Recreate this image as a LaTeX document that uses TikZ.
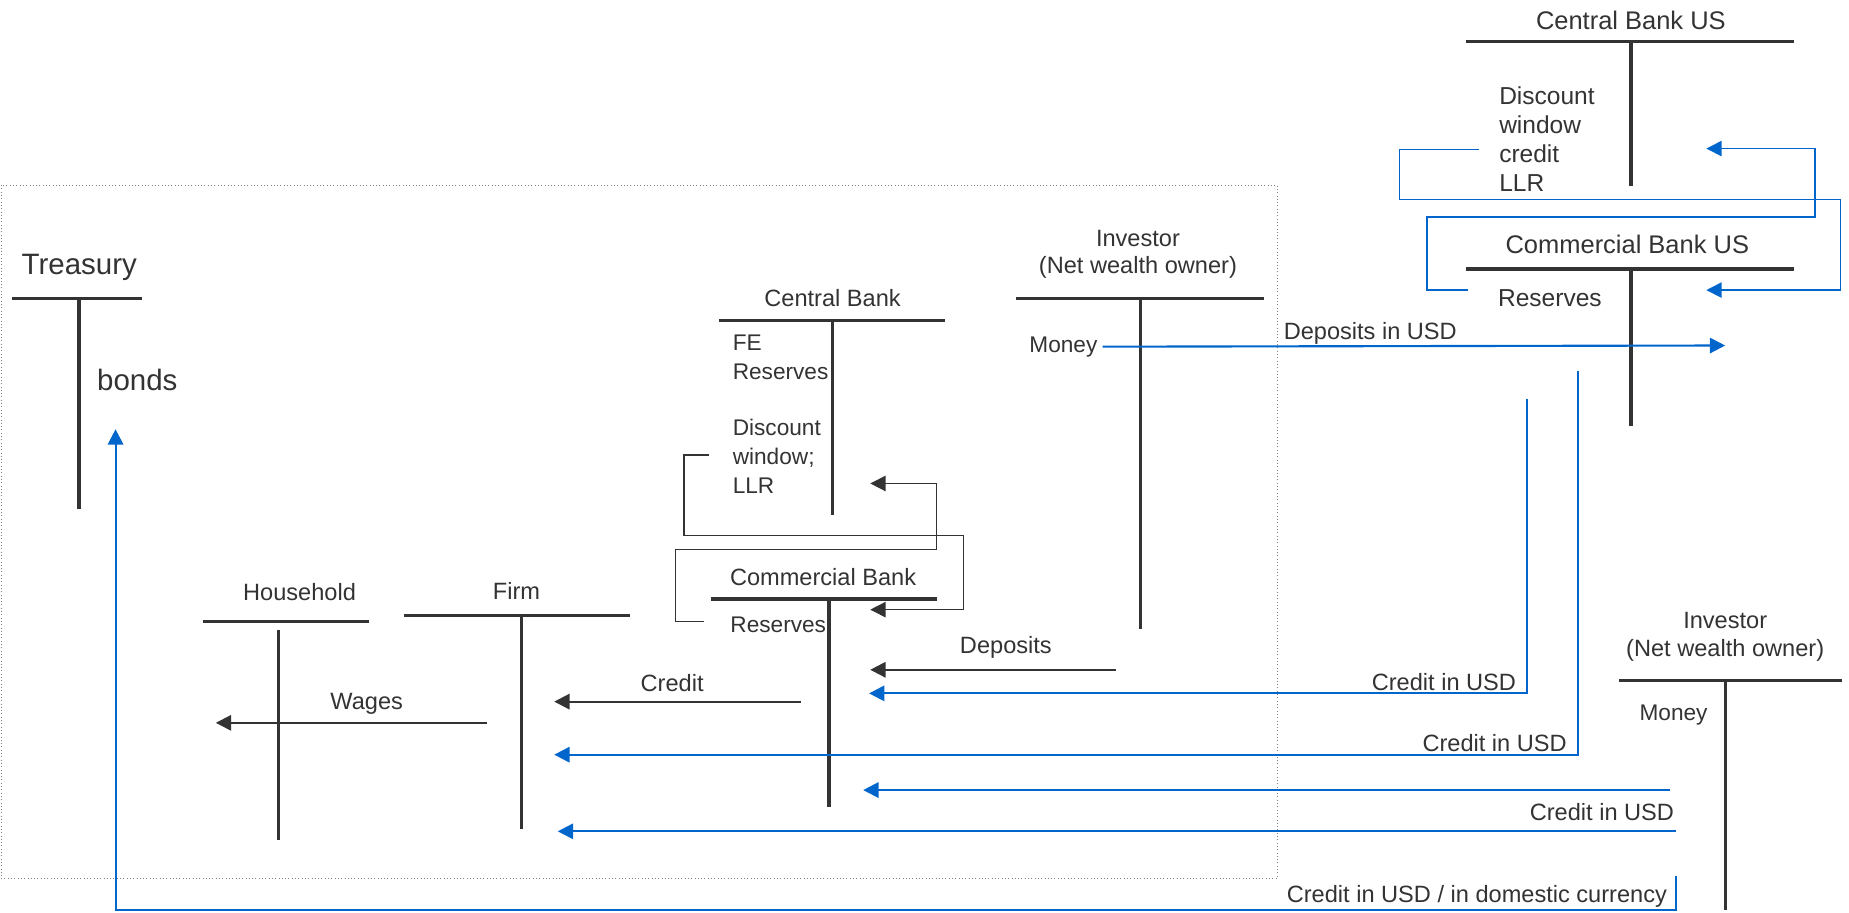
\documentclass[tikz,border=0pt]{standalone}
\usepackage{fontspec}
\setmainfont{Liberation Sans}
\usetikzlibrary{arrows.meta}
\definecolor{flowblue}{RGB}{0,102,204}
\definecolor{inkgray}{RGB}{51,51,51}

\begin{document}
\begin{tikzpicture}[x=0.5pt,y=-0.5pt,
    bar/.style={inkgray,line width=1.4pt},
    flow/.style={inkgray,line width=0.9pt,-{Triangle[length=6.5pt,width=6.5pt]}},
    usdflow/.style={flowblue,line width=0.9pt,-{Triangle[length=6.5pt,width=6.5pt]}},
    bracket/.style={inkgray,line width=0.6pt,-{Triangle[length=6.5pt,width=6.5pt]}},
    usdbracket/.style={flowblue,line width=0.6pt,-{Triangle[length=6.5pt,width=6.5pt]}},
    title/.style={font=\fontsize{10}{11.5}\selectfont,text=inkgray,align=center,inner sep=0pt},
    ustitle/.style={font=\fontsize{10.8}{12.5}\selectfont,text=inkgray,align=center,inner sep=0pt},
    big/.style={font=\fontsize{12.5}{14}\selectfont,text=inkgray,inner sep=0pt},
    item/.style={font=\fontsize{9.6}{12.4}\selectfont,text=inkgray,align=left,inner sep=0pt},
    label/.style={font=\fontsize{10}{11}\selectfont,text=inkgray,inner sep=0pt}]
    \useasboundingbox (0,0) rectangle (1568,774);

    \draw [gray, densely dotted, line width=0.4pt] (1,157) rectangle (1083,745);

    % domestic accounts
    \node [big, anchor=west] (treasury) at (18,227) {Treasury};
    \draw [bar] (10,253) -- (120,253);  \draw [bar] (67,253) -- (67,432);
    \node [big, anchor=west] (bonds) at (82,322) {bonds};

    \node [title] (cbank) at (706,253) {Central Bank};
    \draw [bar] (610,272) -- (801,272);  \draw [bar] (706,272) -- (706,437);
    \node [item, anchor=west] (fereserves) at (621,303) {FE\\Reserves};
    \node [item, anchor=west] (discount) at (621,387) {Discount\\window;\\LLR};

    \node [title] (combank) at (698,489) {Commercial Bank};
    \draw [bar] (603,508) -- (795,508);  \draw [bar] (703,508) -- (703,684);
    \node [item, anchor=west] (reserves) at (619,530) {Reserves};

    \node [title] (investor) at (965,216) {Investor\\(Net wealth owner)};
    \draw [bar] (862,253) -- (1072,253);  \draw [bar] (967,253) -- (967,533);
    \node [item, anchor=east] (money) at (931,294) {Money};

    \node [title] (household) at (254,502) {Household};
    \draw [bar] (172,527) -- (313,527);  \draw [bar] (236,534) -- (236,712);
    \node [title] (firm) at (438,501) {Firm};
    \draw [bar] (343,522) -- (534,522);  \draw [bar] (442,522) -- (442,703);

    % US accounts
    \node [ustitle] (cbankus) at (1383,17) {Central Bank US};
    \draw [bar] (1243,35) -- (1521,35);  \draw [bar] (1383,35) -- (1383,158);
    \node [ustitle, align=left, anchor=west, font=\fontsize{10.4}{12.4}\selectfont] (dwcredit) at (1271,118) {Discount\\window\\credit\\LLR};

    \node [ustitle] (combankus) at (1380,207) {Commercial Bank US};
    \draw [bar] (1243,228) -- (1521,228);  \draw [bar] (1383,228) -- (1383,361);
    \node [ustitle, anchor=west, font=\fontsize{10.4}{12.4}\selectfont] (reservesus) at (1270,253) {Reserves};

    \node [title] (investorus) at (1463,540) {Investor\\(Net wealth owner)};
    \draw [bar] (1373,577) -- (1562,577);  \draw [bar] (1463,577) -- (1463,772);
    \node [item, anchor=west] (moneyus) at (1390,606) {Money};

    % end points of the flows
    \coordinate (dwout) at (601,386);   \coordinate (resin) at (738,517);
    \coordinate (resout) at (597,527);  \coordinate (llrin) at (738,410);
    \coordinate (dwusout) at (1254,127); \coordinate (resusin) at (1447,246);
    \coordinate (resusout) at (1245,246); \coordinate (dwusin) at (1447,126);
    \coordinate (depusd) at (1463,293);
    \coordinate (invout) at (946,568);  \coordinate (depin) at (738,568);
    \coordinate (cbout) at (679,595);   \coordinate (firmin) at (470,595);
    \coordinate (firmout) at (413,613); \coordinate (hhin) at (183,613);
    \coordinate (usdA) at (1295,338);   \coordinate (cbinA) at (737,588);
    \coordinate (usdB) at (1338,315);   \coordinate (firminB) at (470,640);
    \coordinate (invusA) at (1416,670); \coordinate (cbinC) at (732,670);
    \coordinate (invusB) at (1421,705); \coordinate (firminD) at (473,705);
    \coordinate (invusC) at (1421,743); \coordinate (bondsin) at (98,364);

    \draw [bracket] (dwout) -- (580,386) -- (580,454) -- (817,454) -- (817,517) -- (resin);
    \draw [bracket] (resout) -- (573,527) -- (573,466) -- (794,466) -- (794,410) -- (llrin);
    \draw [usdbracket] (dwusout) -- (1187,127) -- (1187,169) -- (1561,169) -- (1561,246) -- (resusin);
    \draw [usdbracket] (resusout) -- (1210,246) -- (1210,184) -- (1539,184) -- (1539,126) -- (dwusin);

    \draw [usdflow] (money.east) ++(4,0) -- (depusd);
    \node [label] (depusdlabel) at (1162,283) {Deposits in USD};

    \draw [flow] (invout) -- (depin);
    \node [label] (deplabel) at (853,549) {Deposits};
    \draw [flow] (cbout) -- (firmin);
    \node [label] (creditlabel) at (570,579) {Credit};
    \draw [flow] (firmout) -- (hhin);
    \node [label] (wageslabel) at (311,597) {Wages};

    \draw [usdflow] (usdA) -- (1295,588) -- (cbinA);
    \node [label, anchor=east] (usdlabelA) at (1286,578) {Credit in USD};
    \draw [usdflow] (usdB) -- (1338,640) -- (firminB);
    \node [label, anchor=east] (usdlabelB) at (1329,630) {Credit in USD};
    \draw [usdflow] (invusA) -- (cbinC);
    \draw [usdflow] (invusB) -- (firminD);
    \node [label, anchor=east] (usdlabelC) at (1420,689) {Credit in USD};
    \draw [usdflow] (invusC) -- (1421,772) -- (98,772) -- (bondsin);
    \node [label, anchor=east] (usdlabelD) at (1414,760) {Credit in USD / in domestic currency};
\end{tikzpicture}
\end{document}
